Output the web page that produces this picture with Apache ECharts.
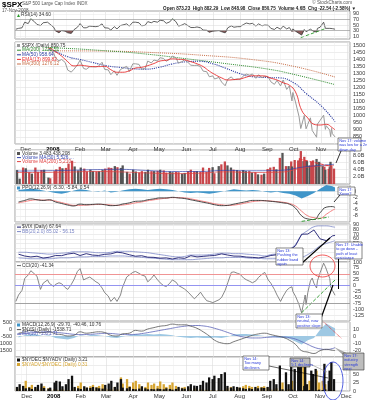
<!DOCTYPE html>
<html><head><meta charset="utf-8">
<script src="https://cdn.jsdelivr.net/npm/echarts@6/dist/echarts.min.js"></script>
<style>html,body{margin:0;padding:0;background:#fff}#c{width:367px;height:400px}</style>
</head><body><div id="c"></div>
<script>
// ---------- DATA ----------
const d2Dates = ['2007-11-20','2007-11-23','2007-11-27','2007-11-30','2007-12-04','2007-12-07','2007-12-11','2007-12-14','2007-12-18','2007-12-21','2007-12-26','2007-12-28',
'2008-01-02','2008-01-04','2008-01-08','2008-01-11','2008-01-15','2008-01-18','2008-01-22','2008-01-25','2008-01-29','2008-02-01',
'2008-02-05','2008-02-08','2008-02-12','2008-02-15','2008-02-19','2008-02-22','2008-02-26','2008-02-29',
'2008-03-04','2008-03-07','2008-03-11','2008-03-14','2008-03-18','2008-03-20','2008-03-25','2008-03-28',
'2008-04-01','2008-04-04','2008-04-08','2008-04-11','2008-04-15','2008-04-18','2008-04-22','2008-04-25','2008-04-29',
'2008-05-02','2008-05-06','2008-05-09','2008-05-13','2008-05-16','2008-05-20','2008-05-23','2008-05-27','2008-05-30',
'2008-06-03','2008-06-06','2008-06-10','2008-06-13','2008-06-17','2008-06-20','2008-06-24','2008-06-27',
'2008-07-01','2008-07-03','2008-07-08','2008-07-11','2008-07-15','2008-07-18','2008-07-22','2008-07-25','2008-07-29',
'2008-08-01','2008-08-05','2008-08-08','2008-08-12','2008-08-15','2008-08-19','2008-08-22','2008-08-26','2008-08-29',
'2008-09-02','2008-09-05','2008-09-09','2008-09-12','2008-09-16','2008-09-19','2008-09-23','2008-09-26',
'2008-09-29','2008-09-30','2008-10-03','2008-10-07','2008-10-09','2008-10-10','2008-10-13','2008-10-14','2008-10-15','2008-10-17',
'2008-10-20','2008-10-22','2008-10-24','2008-10-27','2008-10-28','2008-10-31','2008-11-04','2008-11-06','2008-11-07',
'2008-11-11','2008-11-12','2008-11-13','2008-11-14','2008-11-17'];

const priceClose = [1439,1440,1428,1481,1462,1504,1477,1467,1454,1484,1497,1478,
1447,1411,1390,1401,1380,1325,1311,1331,1362,1396,
1337,1331,1349,1349,1348,1353,1381,1330,
1327,1293,1320,1288,1330,1330,1352,1315,
1370,1370,1366,1332,1335,1390,1376,1397,1390,
1413,1408,1388,1403,1425,1413,1375,1385,1400,
1378,1360,1358,1360,1350,1318,1314,1278,
1284,1262,1273,1240,1214,1261,1277,1257,1263,
1260,1284,1297,1289,1298,1267,1292,1271,1282,
1277,1242,1224,1252,1213,1255,1188,1213,
1106,1166,1099,996,910,899,1003,998,908,940,
986,896,877,848,941,968,1005,904,930,
898,852,911,873,850];

const rsi14 = [35,38,40,60,55,72,62,52,48,58,60,55,
42,30,22,30,28,22,20,33,42,55,
40,40,46,45,44,46,54,40,
39,32,44,36,48,48,54,46,
60,60,58,47,49,62,58,63,60,
67,65,56,61,72,62,46,50,55,
47,41,41,43,40,32,31,24,
28,24,30,26,22,40,47,42,44,
44,52,57,54,56,46,54,47,50,
49,38,34,42,35,46,36,41,
27,36,28,20,15,14,34,34,26,30,
35,29,27,25,38,42,60,38,41,
38,33,40,37,35];

const cci20 = [-67,-40,-20,30,45,63,50,40,-16,10,24,10,
-4,5,12,8,-8,-16,5,25,60,72,
24,30,36,28,16,10,-10,-30,
-44,-67,-50,-67,-40,-10,36,45,
56,60,52,45,40,16,30,45,25,
12,0,-4,10,24,15,0,-8,-15,
-28,-40,-56,-45,-28,-45,-64,-67,
-72,-67,-60,-50,-20,12,56,58,52,
48,32,25,18,12,20,35,48,56,
24,10,-16,-40,-67,-45,-20,-10,
-5,-25,-45,-80,-105,-115,-60,-40,-80,-30,
20,32,10,-10,20,55,95,80,70,
30,-5,-10,-20,-41];

const volumeB = [3.9,1.5,4.6,4.4,3.3,2.9,4.6,3.4,3.9,4.0,1.8,1.6,
3.6,4.1,4.8,4.4,4.5,5.7,6.5,4.9,3.8,4.6,
4.3,3.5,4.0,3.6,3.5,3.6,3.9,4.3,
4.6,4.5,5.0,4.7,4.5,5.2,3.4,2.9,
4.0,3.5,3.2,3.6,3.4,4.0,3.6,3.6,3.7,
4.0,3.8,3.2,3.5,3.3,3.4,3.3,2.9,3.1,
3.6,4.0,3.6,3.6,3.4,4.6,3.4,4.5,
4.7,3.0,5.0,5.5,6.3,5.2,4.6,4.0,3.9,
3.6,3.9,3.6,3.6,3.2,3.3,2.7,2.6,2.9,
4.2,4.6,4.8,4.1,7.3,8.7,5.0,5.0,
6.3,4.9,6.7,6.6,7.2,9.2,6.4,7.6,6.5,6.5,
5.2,6.2,6.6,5.2,7.0,6.2,5.0,4.8,4.0,
4.2,4.7,6.2,5.0,4.3];

const decAdvRatio = [1.2,2.0,1.5,0.8,1.0,0.6,1.2,1.8,2.2,0.9,0.7,1.0,
2.5,3.0,2.8,1.4,2.0,3.5,4.5,1.2,0.8,0.6,
1.4,1.0,0.9,1.2,1.0,0.8,0.7,1.8,
2.2,3.0,1.2,2.5,3.5,1.0,0.8,1.2,
0.6,0.5,0.7,1.4,0.8,0.5,0.6,0.5,0.7,
0.6,0.5,0.8,0.6,0.4,0.6,1.2,0.8,0.7,
1.4,2.0,1.6,1.5,1.8,3.0,2.5,4.0,
3.5,4.5,3.8,5.0,5.5,1.5,1.0,1.4,1.2,
1.0,0.8,0.6,0.8,0.6,1.2,0.8,1.0,0.9,
1.2,3.0,3.5,2.0,7.5,0.5,5.5,2.0,
8.0,0.4,6.5,8.5,7.0,9.5,0.2,1.5,8.0,2.0,
0.3,6.0,5.0,6.5,0.2,0.4,0.3,8.0,0.5,
3.0,6.0,0.4,8.5,3.5];

const advDecRatio = [1.0,0.5,1.5,3.0,1.2,1.8,0.8,0.6,1.0,1.4,0.8,0.5,
0.6,0.4,0.3,0.5,0.4,0.3,0.2,0.8,1.5,2.5,
0.6,1.0,1.4,1.8,1.2,1.5,2.0,0.8,
0.6,0.5,1.2,0.5,4.0,2.2,3.5,1.4,
2.5,3.0,2.0,1.0,1.2,2.5,1.8,2.2,1.5,
2.8,2.0,1.2,1.8,2.5,1.5,0.8,1.0,1.2,
0.8,0.6,0.8,0.6,0.5,0.4,0.4,0.3,
0.3,0.2,0.3,0.2,0.2,0.8,1.2,0.6,0.8,
1.0,1.4,1.8,1.5,1.2,0.8,1.5,1.2,1.4,
1.0,0.5,0.4,0.8,0.3,2.5,0.4,0.6,
0.2,3.0,0.2,0.1,0.1,0.1,9.0,0.6,0.1,0.5,
3.0,0.2,0.2,0.2,6.0,2.5,3.0,0.1,2.0,
0.4,0.2,3.5,0.1,0.3];

const weekDates = ['2007-11-23','2007-11-30','2007-12-07','2007-12-14','2007-12-21','2007-12-28','2008-01-04','2008-01-11','2008-01-18','2008-01-25',
'2008-02-01','2008-02-08','2008-02-15','2008-02-22','2008-02-29','2008-03-07','2008-03-14','2008-03-20','2008-03-28','2008-04-04',
'2008-04-11','2008-04-18','2008-04-25','2008-05-02','2008-05-09','2008-05-16','2008-05-23','2008-05-30','2008-06-06','2008-06-13',
'2008-06-20','2008-06-27','2008-07-03','2008-07-11','2008-07-18','2008-07-25','2008-08-01','2008-08-08','2008-08-15','2008-08-22',
'2008-08-29','2008-09-05','2008-09-12','2008-09-19','2008-09-26','2008-10-03','2008-10-10','2008-10-17','2008-10-24','2008-10-31',
'2008-11-07','2008-11-14','2008-11-17'];

const ema13 = [1445,1450,1470,1478,1475,1480,1455,1425,1385,1355,
1360,1355,1350,1350,1352,1328,1310,1310,1320,1340,
1345,1357,1372,1390,1395,1405,1402,1398,1385,1370,
1350,1318,1295,1270,1255,1258,1262,1275,1285,1285,
1283,1268,1255,1235,1218,1170,1040,985,940,935,
940,915,900];

const vixClose = [26.8,22.9,20.9,22.5,18.5,20.3,23.9,23.7,27.2,29.0,
24.0,28.0,25.0,24.1,26.5,27.5,31.2,29.8,25.7,22.5,
23.5,20.4,20.0,18.2,18.8,16.5,19.0,17.8,23.6,21.0,
22.2,23.4,24.0,27.5,25.0,22.8,22.6,20.7,20.0,18.8,
20.6,24.0,25.7,32.1,34.7,45.1,70.0,70.3,79.1,59.9,
56.1,66.3,67.6];
const vixBBUpper = [31,31,30,29,28,27,28,29,30,32,
32,32,31,30,30,31,33,33,33,32,
31,30,28,26,24,22,21,22,25,25,
25,26,27,29,29,28,28,27,26,25,
23,26,28,34,38,48,68,78,86,88,
88,86,85];
const vixBBLower = [19,18,17,17,17,17,18,19,19,20,
21,21,22,22,22,23,23,23,22,21,
20,19,18,17,16,15,15,15,15,16,
17,18,19,19,20,20,20,19,18,18,
17,17,17,16,17,17,20,26,35,45,
50,54,56];

const ppoLine = [-3.5,-3.0,-2.5,-2.8,-3.0,-2.8,-3.5,-4.0,-4.5,-4.8,
-4.2,-4.4,-4.3,-4.2,-4.4,-4.7,-4.6,-4.2,-3.8,-3.3,
-3.2,-2.8,-2.5,-2.2,-2.2,-2.0,-2.2,-2.4,-2.8,-3.2,
-3.6,-4.0,-4.4,-4.7,-4.6,-4.2,-3.8,-3.4,-3.0,-3.0,
-3.1,-3.3,-3.5,-3.8,-4.2,-5.5,-8.0,-9.0,-9.2,-7.0,
-5.2,-5.0,-5.3];
const ppoSignal = [-3.8,-3.4,-3.0,-2.8,-2.9,-2.9,-3.2,-3.7,-4.2,-4.6,
-4.6,-4.5,-4.4,-4.3,-4.3,-4.5,-4.6,-4.5,-4.2,-3.8,
-3.5,-3.1,-2.8,-2.5,-2.3,-2.1,-2.1,-2.2,-2.5,-2.9,
-3.3,-3.7,-4.1,-4.4,-4.6,-4.5,-4.2,-3.8,-3.4,-3.2,
-3.1,-3.2,-3.4,-3.6,-4.0,-4.8,-6.5,-8.0,-8.6,-8.8,
-7.5,-6.2,-5.8];
const ppoHist = [0.4,0.6,0.8,0.6,0.2,-0.2,-0.6,-0.8,-0.4,0.2,
0.6,0.4,0,-0.2,0.2,-0.4,-0.2,0.2,0.6,0.8,
0.6,0.4,0.6,0.8,0.6,0.4,0,-0.4,-0.6,-0.4,
-0.6,-0.8,-0.6,-0.2,0.2,0.6,0.4,0.2,0.4,0.2,
-0.2,-0.4,-0.2,-0.6,-0.8,-1.4,-2.4,-1.6,-0.6,0.8,
2.0,1.6,1.2];

const macdHist = [-2,1,3,2,0,1,-3,-4,-5,-3,
1,0,2,1,0,-2,-3,-1,1,3,
2,3,2,3,2,1,-1,-2,-3,-2,
-3,-3,-2,-3,-1,2,3,3,2,1,
0,-1,-2,-3,-4,-8,-12,-6,-3,9,
18,13,11];
const nysi = [-300,-200,-100,-200,-250,-200,-350,-400,-500,-450,
-200,-300,-250,-200,-250,-450,-500,-350,-300,-100,
-150,0,100,200,250,350,300,300,200,50,
-200,-500,-800,-1000,-1050,-900,-750,-600,-450,-350,
-300,-400,-500,-600,-800,-1100,-1550,-1650,-1750,-1550,
-1450,-1520,-1540];
const nysiMA = [-350,-320,-280,-250,-230,-220,-240,-280,-330,-380,
-400,-390,-370,-340,-310,-320,-360,-390,-400,-380,
-330,-260,-180,-100,-20,60,140,200,240,250,
220,150,50,-100,-250,-400,-520,-600,-640,-640,
-610,-580,-560,-570,-620,-720,-900,-1100,-1300,-1420,
-1460,-1400,-1320];

const ma50Dates = ['2007-11-20','2007-12-17','2008-01-02','2008-01-18','2008-02-01','2008-02-15','2008-03-03','2008-03-17','2008-04-01','2008-04-15','2008-05-01','2008-05-15','2008-06-02','2008-06-16','2008-07-01','2008-07-15','2008-08-01','2008-08-15','2008-09-02','2008-09-15','2008-10-01','2008-10-15','2008-11-03','2008-11-17'];
const ma50 = [1490,1478,1462,1420,1400,1380,1355,1345,1335,1332,1345,1368,1385,1388,1370,1340,1300,1278,1272,1270,1235,1160,1060,958];
const ma200Dates = ['2007-11-20','2008-01-02','2008-03-03','2008-04-15','2008-06-02','2008-07-15','2008-09-02','2008-10-01','2008-11-17'];
const ma200 = [1492,1484,1462,1440,1405,1372,1332,1295,1222];
const ma300Dates = ['2007-11-20','2008-01-02','2008-03-03','2008-05-01','2008-06-16','2008-08-15','2008-10-01','2008-11-17'];
const ma300 = [1455,1462,1460,1448,1432,1400,1352,1276];

const volMADates = ['2007-11-20','2008-01-15','2008-02-15','2008-03-15','2008-04-15','2008-05-15','2008-06-15','2008-07-15','2008-08-15','2008-09-15','2008-10-15','2008-11-17'];
const volMARed = [3.2,3.3,3.5,3.4,3.1,2.9,3.0,3.4,3.2,3.3,4.6,5.2];
const volMABlue = [3.6,3.8,4.0,4.1,3.8,3.5,3.5,3.8,3.7,3.8,4.8,5.5];

// annotation trend lines (date, value)
const rsiTrend = [['2008-10-09',5],['2008-11-05',36]];
const volTrend = [['2008-10-08',7.0],['2008-11-14',4.9]];
const ppoTrend = [['2008-10-10',-9.8],['2008-11-10',-8.4]];
const cciTrend = [['2008-10-10',-115],['2008-11-17',24]];
const macdTrend = [['2008-11-04',20],['2008-11-24',-3]];

const monthNames = ['Jan','Feb','Mar','Apr','May','Jun','Jul','Aug','Sep','Oct','Nov','Dec'];

// ---------- CHART ----------
const chart = echarts.init(document.getElementById('c'), null, {renderer:'canvas'});
const pts = (dates, vals) => dates.map((d,i)=>[d, vals[i]]);
const FONT = 'Arial, Liberation Sans, sans-serif';

const gridDefs = [[11,28],[42,102],[150,34],[185,37],[224,38],[262,59],[322,35],[357,34]];
const grids = gridDefs.map(g=>({left:15,right:17,top:g[0],height:g[1],show:true,borderColor:'#8a8a8a',borderWidth:0.8,outerBoundsMode:'none',containLabel:false}));

function fmtMonth(v){const d=new Date(v);return d.getMonth()===0?'{y|'+d.getFullYear()+'}':monthNames[d.getMonth()];}
const xAxes = grids.map((g,i)=>({
  type:'time', gridIndex:i, min:+new Date(2007,10,19), max:+new Date(2008,11,4),
  minInterval:28*864e5, maxInterval:31*864e5,
  axisLine:{show:false}, axisTick:{show:false},
  axisLabel:{show:(i===1||i===7), fontSize:6, color:'#333', margin:2, fontFamily:FONT, hideOverlap:false, formatter:fmtMonth, rich:{y:{fontSize:6,fontWeight:'bold',color:'#000',fontFamily:FONT}}},
  splitLine:{show:true,lineStyle:{color:'#dcdcdc',width:0.6}},
  minorTick:{show:false,splitNumber:2},
  minorSplitLine:{show:true,lineStyle:{color:'#ececec',width:0.5}}
}));

function ya(grid,min,max,interval,fmt,extra){
  return Object.assign({type:'value',gridIndex:grid,position:'right',min,max,interval,scale:false,
    axisLine:{show:false},axisTick:{show:false},
    axisLabel:{fontSize:5.5,color:'#333',margin:3,fontFamily:FONT,formatter:fmt,hideOverlap:false},
    splitLine:{show:true,lineStyle:{color:'#e0e0e0',width:0.6}}},extra||{});
}
const yAxes = [
  ya(0,0,100,10,v=>(v%20===10?v:''),{splitLine:{show:false}}),
  ya(1,800,1525,50,v=>(v>=850&&v%50===0?v:'')),
  ya(2,0,9.5,2,v=>(v>0&&v<9?v.toFixed(1)+'B':'')),
  ya(3,-10,2,2,v=>(v<=0&&v>-10?v:'')),
  ya(4,10,92,10,v=>(v>=20&&v<=90?v:'')),
  ya(5,-150,100,25,v=>(v>-150?v:'')),
  ya(6,-30,20,10,v=>(v>-30&&v<20?v:'')),
  ya(6,-2000,500,500,v=>(v>-2000?v:''),{position:'left',splitLine:{show:false}}),
  ya(7,0,10,2.5,v=>(v===0?'0':(v===2.5?'25':(v===5?'50':''))),{splitLine:{show:true,lineStyle:{color:'#e0e0e0',width:0.6}}})
];

function line(name,xi,yi,data,color,width,type,extra){
  return Object.assign({name,type:'line',xAxisIndex:xi,yAxisIndex:yi,data,showSymbol:false,symbol:'none',animation:false,silent:true,
    lineStyle:{color,width:width||1,type:type||'solid'},itemStyle:{color}},extra||{});
}
function hline(v,color,w){return {yAxis:v,lineStyle:{color,width:w||0.7,type:'solid'}};}

const series = [
  // RSI
  line('rsiLow',0,0,d2Dates.map((d,i)=>[d,Math.min(rsi14[i],30)]),'#8b5a5a',0,'solid',{lineStyle:{width:0},areaStyle:{origin:30,color:'#8b5a5a',opacity:1}}),
  line('rsiHigh',0,0,d2Dates.map((d,i)=>[d,Math.max(rsi14[i],70)]),'#3a9a3a',0,'solid',{lineStyle:{width:0},areaStyle:{origin:70,color:'#3a9a3a',opacity:1}}),
  line('rsi',0,0,pts(d2Dates,rsi14),'#3a3a3a',0.8,'solid',{markLine:{silent:true,symbol:'none',label:{show:false},animation:false,
    data:[hline(70,'#999',0.7),hline(30,'#999',0.7),hline(50,'#d8d8d8',0.5),hline(90,'#e6e6e6',0.5),hline(10,'#e6e6e6',0.5)]}}),
  line('rsiTrend',0,0,rsiTrend,'#2a9a2a',0.9,'dashed'),
  // Price
  line('ma300',1,1,pts(ma300Dates,ma300),'#c8704a',1,'dotted',{smooth:true}),
  line('ma200',1,1,pts(ma200Dates,ma200),'#2e8b2e',1,'dotted',{smooth:true}),
  line('ma50',1,1,pts(ma50Dates,ma50),'#2a3aa0',1.1,'dotted',{smooth:true}),
  line('price',1,1,pts(d2Dates,priceClose),'#9a9a9a',1),
  line('ema13',1,1,pts(weekDates,ema13),'#e83030',0.9,'solid',{smooth:true}),
  // Volume
  {name:'vol',type:'bar',xAxisIndex:2,yAxisIndex:2,data:pts(d2Dates,volumeB),barWidth:2.3,animation:false,silent:true,
   itemStyle:{color:p=>(p.dataIndex>0&&priceClose[p.dataIndex]<priceClose[p.dataIndex-1])?'#c8464b':'#555'}},
  line('volMARed',2,2,pts(volMADates,volMARed),'#e04040',0.7,'solid',{smooth:true}),
  line('volMABlue',2,2,pts(volMADates,volMABlue),'#3344aa',0.7,'solid',{smooth:true}),
  line('volTrend',2,2,volTrend,'#e83030',0.9,'dashed'),
  // PPO
  line('ppoHist',3,3,pts(weekDates,ppoHist),'#3f95c9',0,'solid',{lineStyle:{width:0},areaStyle:{origin:0,color:'#3f95c9',opacity:1}}),
  line('ppoSignal',3,3,pts(weekDates,ppoSignal),'#f07070',0.9,'solid',{smooth:true}),
  line('ppo',3,3,pts(weekDates,ppoLine),'#333',0.9,'solid',{smooth:true}),
  line('ppoTrend',3,3,ppoTrend,'#2a9a2a',0.9,'dashed'),
  // VIX
  line('bbU',4,4,pts(weekDates,vixBBUpper),'#7b86c6',0.8,'solid',{smooth:true}),
  line('bbL',4,4,pts(weekDates,vixBBLower),'#7b86c6',0.8,'solid',{smooth:true}),
  line('vix',4,4,pts(weekDates,vixClose),'#1c1c70',0.9),
  // CCI
  line('cci',5,5,pts(d2Dates,cci20),'#6a6a6a',0.8,'solid',{markLine:{silent:true,symbol:'none',label:{show:false},animation:false,
    data:[hline(50,'#f08a8a',0.9),hline(0,'#8a8af0',0.9),hline(-75,'#9a9a9a',0.9)]}}),
  line('cciTrend',5,5,cciTrend,'#2a9a2a',0.9,'dashed'),
  // MACD / NYSI
  line('macdHist',6,6,pts(weekDates,macdHist),'#9ec8e3',0,'solid',{lineStyle:{width:0},areaStyle:{origin:0,color:'#9ec8e3',opacity:1}}),
  line('nysiMA',6,7,pts(weekDates,nysiMA),'#5a62b8',0.8,'solid',{smooth:true}),
  line('nysi',6,7,pts(weekDates,nysi),'#555',0.8,'solid',{smooth:true}),
  line('macdTrend',6,6,macdTrend,'#e83030',0.9,'dotted'),
  // Breadth
  {name:'advdec',type:'bar',xAxisIndex:7,yAxisIndex:8,data:pts(d2Dates,advDecRatio),barWidth:2.3,barGap:'-100%',animation:false,silent:true,itemStyle:{color:'#d6a532'}},
  {name:'decadv',type:'bar',xAxisIndex:7,yAxisIndex:8,data:pts(d2Dates,decAdvRatio),barWidth:2.3,barGap:'-100%',animation:false,silent:true,itemStyle:{color:'#111'}}
];

// ---------- TEXT & ANNOTATIONS ----------
function txt(x,y,text,color,size,weight,align){
  return {type:'text',x,y,z:50,silent:true,style:{text,fill:color||'#333',fontSize:size||5,fontFamily:FONT,fontWeight:weight||'normal',align:align||'left',verticalAlign:'top'}};
}
function leg(x,y,color,text,tcolor,kind){
  const els=[];
  if(kind==='box') els.push({type:'rect',x:x,y:y+1,z:50,shape:{width:3,height:3},style:{fill:color}});
  else els.push({type:'line',z:50,shape:{x1:x,y1:y+2.6,x2:x+4,y2:y+2.6},style:{stroke:color,lineWidth:1}});
  els.push(txt(x+5,y,text,tcolor||'#333',4.8));
  return els;
}
function bg(x,y,w,h){return {type:'rect',x,y,z:45,shape:{width:w,height:h},style:{fill:'#fff',opacity:0.92}};}
function note(x,y,w,h,lines,fill){
  return [{type:'rect',x,y,z:60,shape:{width:w,height:h},style:{fill:fill||'#fff',stroke:'#333',lineWidth:0.6}},
    {type:'text',x:x+1.2,y:y+1,z:61,style:{text:lines.join('\n'),fill:'#2a3ad8',fontSize:3.9,fontFamily:FONT,lineHeight:4.2,verticalAlign:'top'}}];
}
function seg(x1,y1,x2,y2,color,w){return {type:'line',z:58,shape:{x1,y1,x2,y2},style:{stroke:color||'#000',lineWidth:w||0.8}};}

const graphics = [].concat(
  [txt(2,0.5,'$SPX','#000',8,'bold'), txt(22,1.5,'S&P 500 Large Cap Index INDX','#555',4.6),
   txt(2,8,'17-Nov-2008','#555',4.6),
   txt(352,0.5,'© StockCharts.com','#555',4.6,'normal','right'),
   txt(356,6.5,'Open 873.23  High 882.29  Low 848.98  Close 850.75  Volume 4.6B  Chg -22.54 (-2.58%) \u25BC','#222',4.6,'bold','right')],
  [{type:'polygon',z:50,shape:{points:[[17,17],[20,17],[18.5,14]]},style:{fill:'#2a9a2a'}}, txt(21,12.5,'RSI(14) 34.60','#333',4.8)],
  [bg(15.5,42.5,33,24)],
  leg(17,43,'#9a9a9a','$SPX (Daily) 850.75','#333','box'),
  leg(17,47.6,'#2e8b2e','MA(200) 1222.51','#2e8b2e'),
  leg(17,52.2,'#2a3aa0','MA(50) 958.64','#2a3aa0'),
  leg(17,56.8,'#e83030','EMA(13) 899.82','#e83030'),
  leg(17,61.4,'#c8704a','MA(300) 1276.12','#c8704a'),
  [bg(15.5,150.5,42,15)],
  leg(17,151,'#555','Volume 3,483,438,208','#333','box'),
  leg(17,155,'#3344aa','Volume MA(50) 5,526,...','#3344aa'),
  leg(17,159,'#e04040','Volume MA(200) 5,210,...','#e04040'),
  leg(17,185.5,'#3f95c9','PPO(12,26,9) -5.30, -5.84, 0.54','#333','box'),
  leg(17,224.5,'#1c1c70','$VIX (Daily) 67.64','#333'),
  leg(17,229,'#7b86c6','BB(20,2.0) 85.02 - 56.15','#7b86c6'),
  leg(17,263,'#6a6a6a','CCI(20) -41.34','#333'),
  leg(17,322.5,'#3f95c9','MACD(12,26,9) -29.70, -40.46, 10.76','#333','box'),
  leg(17,327,'#555','$NYSI (Daily) -1538.71','#333'),
  leg(17,331.5,'#5a62b8','MA(10) -1321.71','#5a62b8'),
  leg(17,357.5,'#111','$NYDEC:$NYADV (Daily) 3.21','#333','box'),
  leg(17,362,'#d6a532','$NYADV:$NYDEC (Daily) 0.31','#d6a532','box'),
  [seg(341,151,336,163,'#000',0.8), seg(340,195,334,202,'#000',0.8), seg(302,263,330,238,'#000',1.1),
   seg(338.5,259,338.5,289,'#000',1), seg(320,321,333,285,'#000',1.2), seg(269,366,328,378,'#000',0.6),
   seg(310,364,327,372,'#888',0.6),
   {type:'polygon',z:57,shape:{points:[[343,355],[351,355],[334,347]]},style:{fill:'#aaa'}}],
  [{type:'ellipse',z:59,shape:{cx:322.5,cy:266,rx:12.5,ry:11},style:{fill:null,stroke:'#e33',lineWidth:0.8}},
   {type:'ellipse',z:59,shape:{cx:333,cy:381,rx:10,ry:19},style:{fill:null,stroke:'#2a3ad8',lineWidth:0.8}}],
  note(338,138,23,13,['Nov 17: volume','was low for a 2nd','down day']),
  note(338,187,17,8,['Nov 17:','Xover?']),
  note(335,242,27,17,['Nov 17: Unable','to go down -','path of least','resistance']),
  note(276,248,27,17,['Nov 13:','Pushing the','rubber band','again']),
  note(296,314,26,14,['Nov 13:','neutral, now','positive slope']),
  note(243,356,26,14,['Nov 14:','Too many','decliners']),
  note(290,358,20,9,['Nov 14:','5:1 decliners'],'#bdbdbd'),
  note(343,353,21,17,['Nov 17:','industry','strength','next'],'#bdbdbd')
);

chart.setOption({
  animation:false,
  backgroundColor:'#fff',
  grid:grids, xAxis:xAxes, yAxis:yAxes, series,
  graphic:{elements:graphics}
});
</script></body></html>
